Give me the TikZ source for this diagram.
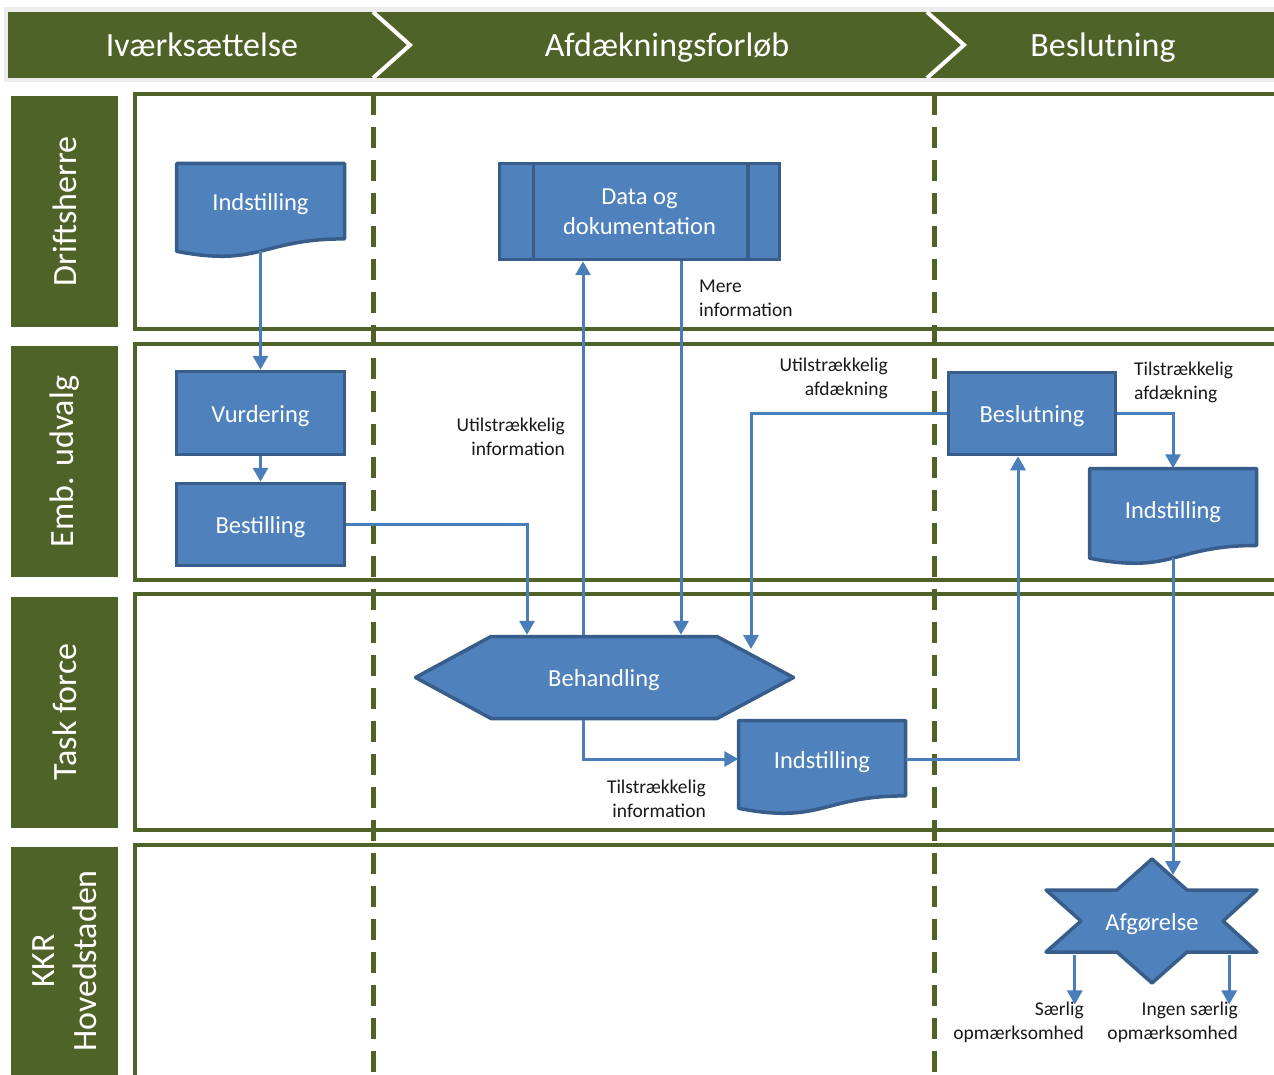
\documentclass[tikz,border=0pt]{standalone}
\usepackage{fontspec}
\setmainfont{Carlito}
\usetikzlibrary{arrows.meta}

\definecolor{lanegreen}{RGB}{79,98,40}
\definecolor{headgray}{RGB}{236,236,236}
\definecolor{boxblue}{RGB}{79,129,189}
\definecolor{boxedge}{RGB}{56,93,138}
\definecolor{flowblue}{RGB}{74,126,187}
\definecolor{notegray}{RGB}{25,25,25}

\newcommand{\docshape}[4]{%
	\draw[ shapeline ] (#1,#2) -- (#1+#3,#2) -- (#1+#3,#2+0.802*#4)
		.. controls (#1+0.5*#3,#2+0.802*#4) and (#1+0.5*#3,#2+1.107*#4) .. (#1,#2+0.934*#4) -- cycle;
}

\begin{document}
\begin{tikzpicture}[ x=1pt, y=-1pt,
	phase/.style={ text=white, inner sep=0pt, font=\fontsize{34}{41}\selectfont, text height=30pt, text depth=7pt },
	lanename/.style={ fill=lanegreen, text=white, rotate=90, minimum width=231pt, minimum height=107pt, inner sep=0pt, align=center, font=\fontsize{34}{42}\selectfont },
	lanebox/.style={ draw=lanegreen, line width=4pt },
	divider/.style={ draw=lanegreen, line width=5pt, dash pattern=on 21pt off 12pt },
	process/.style={ draw=boxedge, fill=boxblue, line width=3.5pt, text=white, inner sep=0pt, align=center, font=\fontsize{24.5}{30}\selectfont },
	shapeline/.style={ draw=boxedge, fill=boxblue, line width=3.5pt, line join=round },
	caption/.style={ text=white, inner sep=0pt, align=center, font=\fontsize{24.5}{30}\selectfont },
	oneline/.style={ text height=21pt, text depth=3pt },
	flow/.style={ draw=flowblue, line width=3pt, -{Triangle[ length=14pt, width=15pt ]} },
	note/.style={ text=notegray, inner sep=0pt, font=\fontsize{19.5}{24}\selectfont },
]

	\useasboundingbox (0,0) rectangle (1274,1075);

	% phases
	\fill[ headgray ] (4,7) rectangle (1274,82);
	\fill[ lanegreen ] (8,12) rectangle (1274,78);
	\foreach \xx in {373, 927} {
		\draw[ white, line width=4pt ] (\xx,12) -- (\xx+37,45) -- (\xx,78);
	}
	\node[ phase ] (hIvaerk) at (202,45) {Iværksættelse};
	\node[ phase ] (hAfdaek) at (667,45) {Afdækningsforløb};
	\node[ phase ] (hBeslut) at (1103,45) {Beslutning};

	% lanes
	\foreach \top/\bot in {94/329, 344/580, 594/830} {
		\draw[ lanebox ] (1274,\top) -- (135,\top) -- (135,\bot) -- (1274,\bot);
	}
	\draw[ lanebox ] (1274,845) -- (135,845) -- (135,1075);

	\node[ lanename ] (laneDrift) at (64.5,211.5) {Driftsherre};
	\node[ lanename ] (laneEmb) at (64.5,461.5) {Emb. udvalg};
	\node[ lanename ] (laneTask) at (64.5,712) {Task force};
	\node[ lanename, minimum width=228pt ] (laneKKR) at (64.5,961) {KKR\\Hovedstaden};

	\foreach \xx in {373, 934} {
		\draw[ divider ] (\xx,94) -- (\xx,1075);
	}

	% shapes
	\docshape{176.5}{163.5}{168}{94}
	\docshape{738.5}{720.5}{167}{94}
	\docshape{1089.5}{468.5}{167}{96}
	\draw[ shapeline ] (415.5,677.5) -- (491,636.5) -- (717,636.5) -- (793.5,677.5) -- (717,718.5) -- (491,718.5) -- cycle;
	\draw[ shapeline ] (1152,859) -- (1187,890) -- (1257,890) -- (1223,921) -- (1257,952) -- (1187,952)
		-- (1152,983) -- (1117,952) -- (1046,952) -- (1081,921) -- (1046,890) -- (1117,890) -- cycle;

	\node[ caption, oneline, minimum width=168pt, minimum height=76pt ] (indA) at (260.5,201.5) {Indstilling};
	\node[ process, minimum width=280pt, minimum height=96pt ] (data) at (639.5,211.5) {Data og\\dokumentation};
	\draw[ boxedge, line width=3.5pt ] ([xshift=35.5pt]data.north west) -- ([xshift=35.5pt]data.south west);
	\draw[ boxedge, line width=3.5pt ] ([xshift=-33.5pt]data.north east) -- ([xshift=-33.5pt]data.south east);
	\node[ process, oneline, minimum width=168pt, minimum height=83pt ] (vurd) at (260.5,413) {Vurdering};
	\node[ process, oneline, minimum width=168pt, minimum height=82pt ] (best) at (260.5,524.5) {Bestilling};
	\node[ process, oneline, minimum width=167pt, minimum height=82pt ] (besl) at (1032,413.5) {Beslutning};
	\node[ caption, oneline, minimum width=228pt, minimum height=85pt ] (beh) at (604,677.5) {Behandling};
	\node[ caption, oneline, minimum width=167pt, minimum height=77pt ] (indB) at (822,759) {Indstilling};
	\node[ caption, oneline, minimum width=167pt, minimum height=81pt ] (indC) at (1173,509) {Indstilling};
	\node[ caption, oneline, minimum width=154pt, minimum height=68pt ] (afg) at (1152,921) {Afgørelse};

	\coordinate (behin) at (751,649);
	\coordinate (afgin) at (1173,875);

	% notes
	\node[ note, anchor=east, align=right ] (noteUtilInfo) at (565,437) {Utilstrækkelig\\information};
	\node[ note, anchor=west, align=left ] (noteMere) at (699,298) {Mere\\information};
	\node[ note, anchor=east, align=right ] (noteUtilAfd) at (888,378) {Utilstrækkelig\\afdækning};
	\node[ note, anchor=west, align=left ] (noteTilAfd) at (1134,382) {Tilstrækkelig\\afdækning};
	\node[ note, anchor=east, align=right ] (noteTilInfo) at (706,799) {Tilstrækkelig\\information};
	\node[ note, anchor=east, align=right ] (noteSaerlig) at (1084,1022) {Særlig\\opmærksomhed};
	\node[ note, anchor=east, align=right ] (noteIngen) at (1238,1022) {Ingen særlig\\opmærksomhed};

	% flows
	\draw[ flow, shorten <=11.5pt ] (indA.south) -- (vurd.north);
	\draw[ flow ] (vurd.south) -- (best.north);
	\draw[ flow ] (best.east) -| ([xshift=-77pt]beh.north);
	\draw[ flow ] ([xshift=-21pt]beh.north) -- ([xshift=-21pt]beh.north |- data.south);
	\draw[ flow ] ([xshift=41.5pt]data.south) -- ([xshift=41.5pt]data.south |- beh.north);
	\draw[ flow ] (besl.west) -| (behin);
	\draw[ flow ] ([xshift=-21pt]beh.south) |- (indB.west);
	\draw[ flow ] (indB.east) -| ([xshift=-14pt]besl.south);
	\draw[ flow ] (besl.east) -| (indC.north);
	\draw[ flow, shorten <=8.5pt ] (indC.south) -- (afgin);
	\draw[ flow ] (afg.south west) -- ([yshift=-3pt]afg.south west |- noteSaerlig.north);
	\draw[ flow ] (afg.south east) -- ([yshift=-3pt]afg.south east |- noteIngen.north);

\end{tikzpicture}
\end{document}
